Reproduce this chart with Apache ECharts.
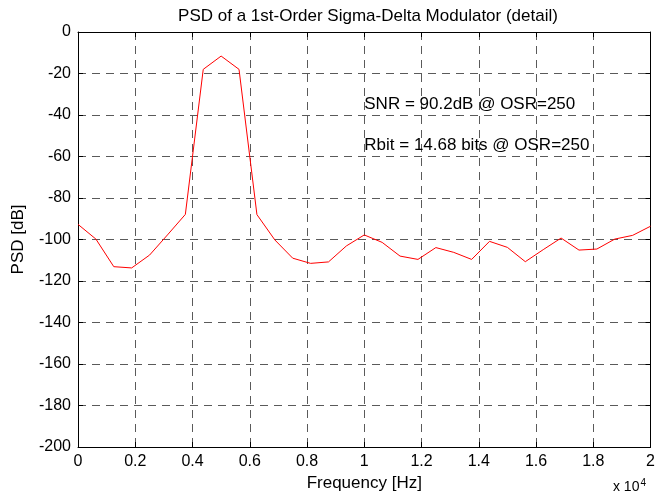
<!DOCTYPE html>
<html>
<head>
<meta charset="utf-8">
<script src="https://cdn.jsdelivr.net/npm/echarts@6/dist/echarts.min.js"></script>
<style>
html, body { margin: 0; padding: 0; background: #ffffff; }
#chart { width: 658px; height: 499px; }
</style>
</head>
<body>
<div id="chart"></div>
<script>
// Frequency bins (Hz) and the modulator output PSD (dB) in each bin
const frequencyHz = [
  0, 625, 1250, 1875, 2500, 3125, 3750, 4375, 5000, 5625, 6250,
  6875, 7500, 8125, 8750, 9375, 10000, 10625, 11250, 11875, 12500,
  13125, 13750, 14375, 15000, 15625, 16250, 16875, 17500, 18125, 18750,
  19375, 20000
];
const psdDb = [
  -92.7, -99.8, -113.1, -113.7, -107.5, -97.8, -87.9, -18.0, -11.6, -18.0, -88.0,
  -100.2, -109.0, -111.5, -110.8, -103.1, -97.8, -101.4, -108.0, -109.6, -103.9,
  -106.2, -109.6, -100.9, -103.8, -110.7, -104.9, -99.3, -105.1, -104.6, -99.8,
  -98.0, -93.6
];

// Axis ticks
const xTickValues = [0, 2000, 4000, 6000, 8000, 10000, 12000, 14000, 16000, 18000, 20000];
const xTickLabels = ['0', '0.2', '0.4', '0.6', '0.8', '1', '1.2', '1.4', '1.6', '1.8', '2'];
const yTickLabels = ['-200', '-180', '-160', '-140', '-120', '-100', '-80', '-60', '-40', '-20', '0'];

// Text annotations: [x (Hz), y (dB), text]
const notes = [
  [10000, -34.7, 'SNR = 90.2dB @ OSR=250'],
  [10000, -54.8, 'Rbit = 14.68 bits @ OSR=250']
];

const FONT = '"Liberation Sans", Arial, Helvetica, sans-serif';
const xLabelFor = v => {
  const i = xTickValues.indexOf(Math.round(v));
  return i >= 0 ? xTickLabels[i] : '';
};
const yLabelFor = v => {
  const s = String(Math.round(v));
  return yTickLabels.indexOf(s) >= 0 ? s : '';
};

const gridDash = { color: '#5a5a5a', width: 1, type: [8, 6] };
const frame = { show: true, onZero: false, lineStyle: { color: '#000', width: 1 } };
const inTick = { show: true, inside: true, length: 5, lineStyle: { color: '#000', width: 1 } };

const chart = echarts.init(document.getElementById('chart'), null, { renderer: 'canvas' });

chart.setOption({
  animation: false,
  backgroundColor: '#ffffff',
  title: {
    text: 'PSD of a 1st-Order Sigma-Delta Modulator (detail)',
    left: 363,
    top: 3,
    textAlign: 'center',
    textStyle: { fontFamily: FONT, fontSize: 17, fontWeight: 'normal', color: '#000' }
  },
  grid: { left: 78, right: 6, top: 32, bottom: 52, containLabel: false },
  xAxis: [
    {
      type: 'value', min: 0, max: 20000, interval: 2000, position: 'bottom',
      name: 'Frequency [Hz]', nameLocation: 'middle', nameGap: 25,
      nameTextStyle: { fontFamily: FONT, fontSize: 17, color: '#000' },
      axisLine: frame, axisTick: inTick,
      axisLabel: { fontFamily: FONT, fontSize: 16, color: '#000', margin: 7, formatter: xLabelFor },
      splitLine: { show: true, lineStyle: gridDash }
    },
    {
      type: 'value', min: 0, max: 20000, interval: 2000, position: 'top',
      axisLine: frame, axisTick: inTick, axisLabel: { show: false }, splitLine: { show: false }
    }
  ],
  yAxis: [
    {
      type: 'value', min: -200, max: 0, interval: 20, position: 'left',
      name: 'PSD [dB]', nameLocation: 'middle', nameGap: 51, nameRotate: 90,
      nameTextStyle: { fontFamily: FONT, fontSize: 17, color: '#000' },
      axisLine: frame, axisTick: inTick,
      axisLabel: { fontFamily: FONT, fontSize: 16, color: '#000', margin: 7, formatter: yLabelFor },
      splitLine: { show: true, lineStyle: gridDash }
    },
    {
      type: 'value', min: -200, max: 0, interval: 20, position: 'right',
      axisLine: frame, axisTick: inTick, axisLabel: { show: false }, splitLine: { show: false }
    }
  ],
  series: [
    {
      type: 'line',
      xAxisIndex: 0, yAxisIndex: 0,
      data: frequencyHz.map((f, i) => [f, psdDb[i]]),
      showSymbol: false,
      symbol: 'none',
      lineStyle: { color: '#ff0000', width: 1 },
      itemStyle: { color: '#ff0000' },
      z: 5,
      markPoint: {
        symbol: 'circle',
        symbolSize: 0,
        silent: true,
        label: {
          show: true, position: 'right', distance: 0,
          fontFamily: FONT, fontSize: 17, color: '#000',
          formatter: p => p.name
        },
        data: notes.map(n => ({ name: n[2], coord: [n[0], n[1]] }))
      }
    }
  ],
  graphic: [
    {
      type: 'text',
      right: 12,
      top: 478,
      style: {
        text: 'x 10{sup|4}',
        fontFamily: FONT,
        fontSize: 14,
        fill: '#000',
        rich: { sup: { fontFamily: FONT, fontSize: 10, verticalAlign: 'top', padding: [0, 0, 8, 1] } }
      }
    }
  ]
});
</script>
</body>
</html>
